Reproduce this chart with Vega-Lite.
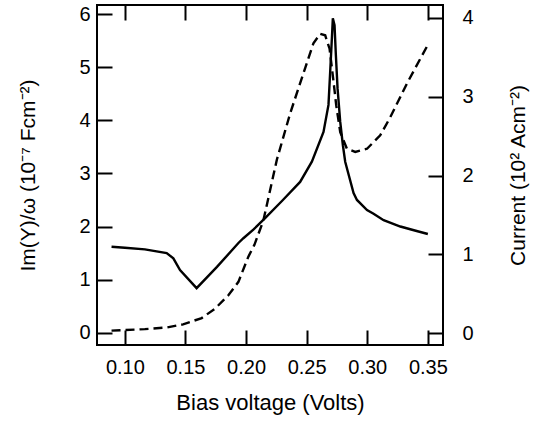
{
  "$schema": "https://vega.github.io/schema/vega-lite/v6.json",
  "width": 346,
  "height": 340,
  "autosize": {"type": "none"},
  "padding": {"left": 97, "top": 5, "right": 90, "bottom": 79},
  "background": "white",
  "config": {
    "view": {"stroke": "black", "strokeWidth": 2},
    "font": "Liberation Sans",
    "axis": {
      "grid": false,
      "domain": false,
      "tickColor": "black",
      "tickWidth": 2,
      "tickSize": -15,
      "labelColor": "black",
      "labelFont": "Liberation Sans",
      "labelFontSize": 20,
      "titleFont": "Liberation Sans",
      "titleFontSize": 21,
      "titleFontWeight": "normal",
      "titleColor": "black"
    }
  },
  "datasets": {
    "solid": [
      {"V": 0.089, "Im": 1.62},
      {"V": 0.100, "Im": 1.60},
      {"V": 0.1165, "Im": 1.57},
      {"V": 0.1345, "Im": 1.50},
      {"V": 0.140, "Im": 1.40},
      {"V": 0.1455, "Im": 1.18},
      {"V": 0.1592, "Im": 0.84},
      {"V": 0.176, "Im": 1.24},
      {"V": 0.1937, "Im": 1.69},
      {"V": 0.1978, "Im": 1.78},
      {"V": 0.206, "Im": 1.94},
      {"V": 0.2157, "Im": 2.16},
      {"V": 0.230, "Im": 2.49},
      {"V": 0.2446, "Im": 2.84},
      {"V": 0.2543, "Im": 3.22},
      {"V": 0.2639, "Im": 3.78},
      {"V": 0.2680, "Im": 4.29},
      {"V": 0.2694, "Im": 4.91},
      {"V": 0.2708, "Im": 5.54},
      {"V": 0.2716, "Im": 5.92},
      {"V": 0.2730, "Im": 5.79},
      {"V": 0.2741, "Im": 5.23},
      {"V": 0.2755, "Im": 4.60},
      {"V": 0.2777, "Im": 3.97},
      {"V": 0.2799, "Im": 3.53},
      {"V": 0.2818, "Im": 3.22},
      {"V": 0.2887, "Im": 2.63},
      {"V": 0.2915, "Im": 2.50},
      {"V": 0.2998, "Im": 2.31},
      {"V": 0.3052, "Im": 2.24},
      {"V": 0.3135, "Im": 2.12},
      {"V": 0.3273, "Im": 2.00},
      {"V": 0.340, "Im": 1.92},
      {"V": 0.350, "Im": 1.86}
    ],
    "dashed": [
      {"V": 0.089, "I": 0.03},
      {"V": 0.1165, "I": 0.05},
      {"V": 0.1345, "I": 0.07},
      {"V": 0.148, "I": 0.11},
      {"V": 0.1634, "I": 0.19},
      {"V": 0.1744, "I": 0.31},
      {"V": 0.1854, "I": 0.48},
      {"V": 0.1937, "I": 0.65},
      {"V": 0.2019, "I": 0.97},
      {"V": 0.2069, "I": 1.12},
      {"V": 0.2143, "I": 1.43},
      {"V": 0.2254, "I": 2.20},
      {"V": 0.2364, "I": 2.79},
      {"V": 0.2474, "I": 3.30},
      {"V": 0.2556, "I": 3.68},
      {"V": 0.2612, "I": 3.80},
      {"V": 0.2653, "I": 3.78},
      {"V": 0.2689, "I": 3.61},
      {"V": 0.2722, "I": 3.19},
      {"V": 0.2744, "I": 2.89},
      {"V": 0.2777, "I": 2.55},
      {"V": 0.2832, "I": 2.34},
      {"V": 0.2901, "I": 2.30},
      {"V": 0.2998, "I": 2.34},
      {"V": 0.3107, "I": 2.51},
      {"V": 0.319, "I": 2.74},
      {"V": 0.3328, "I": 3.17},
      {"V": 0.3507, "I": 3.68}
    ]
  },
  "layer": [
    {
      "data": {"name": "solid"},
      "mark": {"type": "line", "color": "black", "strokeWidth": 2.4, "clip": true},
      "encoding": {
        "x": {
          "field": "V", "type": "quantitative",
          "scale": {"domain": [0.077, 0.3625], "nice": false, "zero": false},
          "axis": {
            "orient": "bottom", "values": [0.10, 0.15, 0.20, 0.25, 0.30, 0.35],
            "format": ".2f", "labelPadding": 27, "title": "Bias voltage (Volts)",
            "titleFontSize": 22, "titlePadding": 15
          }
        },
        "y": {
          "field": "Im", "type": "quantitative",
          "scale": {"domain": [-0.23, 6.17], "nice": false, "zero": false},
          "axis": {
            "orient": "left", "values": [0, 1, 2, 3, 4, 5, 6],
            "labelPadding": 22, "title": "Im(Y)/ω (10⁻⁷ Fcm⁻²)",
            "titlePadding": 40
          }
        }
      }
    },
    {
      "data": {"name": "dashed"},
      "mark": {"type": "line", "color": "black", "strokeWidth": 2.4, "strokeDash": [9, 5], "clip": true},
      "encoding": {
        "x": {
          "field": "V", "type": "quantitative",
          "scale": {"domain": [0.077, 0.3625], "nice": false, "zero": false},
          "axis": {
            "orient": "top", "values": [0.10, 0.15, 0.20, 0.25, 0.30, 0.35],
            "labels": false, "title": null
          }
        },
        "y": {
          "field": "I", "type": "quantitative",
          "scale": {"domain": [-0.152, 4.165], "nice": false, "zero": false},
          "axis": {
            "orient": "right", "values": [0, 1, 2, 3, 4],
            "labelPadding": 34, "title": "Current (10² Acm⁻²)",
            "titleAngle": 270, "titleBaseline": "top", "titlePadding": 34
          }
        }
      }
    }
  ],
  "resolve": {
    "scale": {"y": "independent"},
    "axis": {"x": "independent", "y": "independent"}
  }
}
